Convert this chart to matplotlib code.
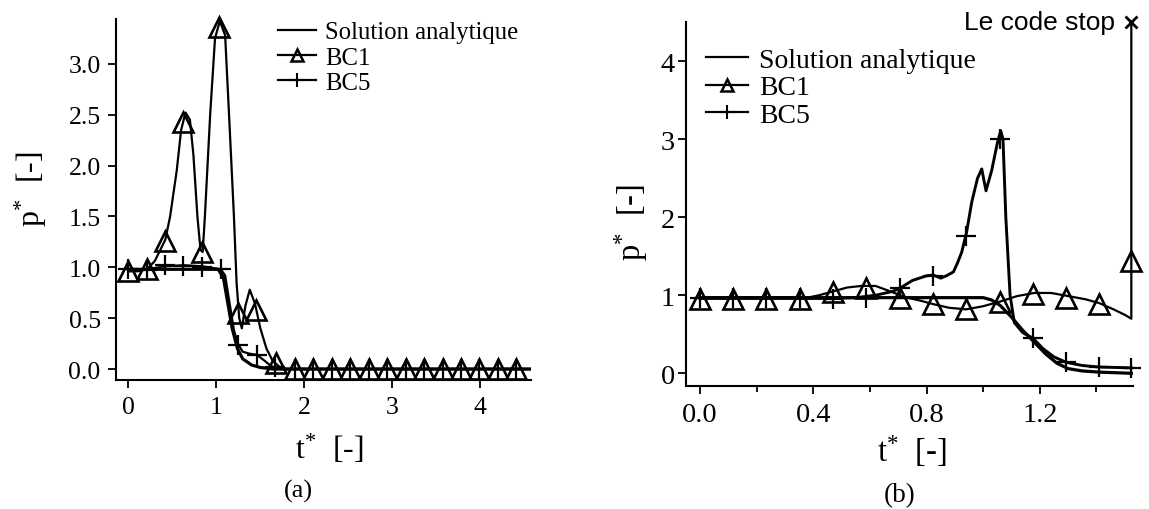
import numpy as np
from matplotlib import pyplot as plt
from matplotlib.lines import Line2D
from matplotlib.ticker import MultipleLocator, FormatStrFormatter

plt.rcParams['font.family'] = ['Liberation Serif', 'DejaVu Serif']
plt.rcParams['mathtext.fontset'] = 'custom'
plt.rcParams['mathtext.rm'] = 'Liberation Serif'
plt.rcParams['mathtext.it'] = 'Liberation Serif:italic'

# ---- panel (a) data ----
a_ana_t = [0, 0.5, 1.02, 1.08, 1.13, 1.18, 1.24, 1.3, 1.4, 1.5, 1.65, 4.6]
a_ana_p = [0.98, 0.98, 0.98, 0.9, 0.65, 0.4, 0.2, 0.1, 0.04, 0.015, 0.0, 0.0]

a_bc1_t = [0, 0.1, 0.21, 0.3, 0.42, 0.475, 0.55, 0.6, 0.65, 0.7, 0.74, 0.785, 0.82, 0.845,
           0.87, 0.93, 0.985, 1.04, 1.1, 1.15, 1.2, 1.23, 1.26, 1.29, 1.33, 1.38, 1.44,
           1.5, 1.57, 1.64, 1.72, 1.8, 4.6]
a_bc1_p = [0.96, 0.96, 0.98, 1.06, 1.27, 1.5, 1.95, 2.35, 2.52, 2.45, 2.1, 1.5, 1.17, 1.15,
           1.5, 2.5, 3.25, 3.42, 3.28, 2.4, 1.5, 0.85, 0.5, 0.4, 0.62, 0.78, 0.64,
           0.4, 0.2, 0.08, 0.02, 0.0, 0.0]
a_bc1_mt = [0, 0.21, 0.42, 0.625, 0.834, 1.035, 1.25, 1.45, 1.68, 1.89, 2.1, 2.31, 2.52,
            2.73, 2.94, 3.15, 3.36, 3.57, 3.78, 3.99, 4.2, 4.41]
a_bc1_mp = [0.96, 0.98, 1.26, 2.43, 1.15, 3.36, 0.55, 0.58, 0.06, 0, 0, 0, 0,
            0, 0, 0, 0, 0, 0, 0, 0, 0]

a_bc5_t = [0, 0.21, 0.42, 0.63, 0.84, 1.05, 1.1, 1.15, 1.2, 1.25, 1.3, 1.38, 1.46,
           1.55, 1.62, 1.7, 4.6]
a_bc5_p = [0.97, 0.98, 1.01, 1.02, 1.01, 0.98, 0.92, 0.65, 0.38, 0.24, 0.17, 0.15, 0.14,
           0.08, 0.03, 0.0, 0.0]
a_bc5_mt = [0, 0.21, 0.42, 0.625, 0.834, 1.05, 1.25, 1.46, 1.67, 1.89, 2.1, 2.31, 2.52,
            2.73, 2.94, 3.15, 3.36, 3.57, 3.78, 3.99, 4.2, 4.41]
a_bc5_mp = [0.98, 0.97, 1.02, 1.01, 1.0, 0.98, 0.24, 0.14, 0.02, 0, 0, 0, 0,
            0, 0, 0, 0, 0, 0, 0, 0, 0]

# ---- panel (b) data ----
b_ana_t = [0, 0.5, 1.0, 1.03, 1.06, 1.1, 1.14, 1.18, 1.22, 1.26, 1.3, 1.35, 1.41, 1.523]
b_ana_p = [0.97, 0.97, 0.97, 0.94, 0.87, 0.72, 0.55, 0.4, 0.25, 0.13, 0.06, 0.03, 0.015, 0.0]

b_bc1_t = [0, 0.2, 0.38, 0.42, 0.47, 0.52, 0.57, 0.62, 0.68, 0.72, 0.78, 0.82, 0.88, 0.94,
           1.0, 1.06, 1.12, 1.18, 1.24, 1.3, 1.36, 1.41, 1.46, 1.5, 1.523, 1.523]
b_bc1_p = [0.97, 0.97, 0.97, 1.0, 1.05, 1.1, 1.12, 1.12, 1.04, 0.98, 0.93, 0.89, 0.84, 0.82,
           0.86, 0.92, 0.99, 1.03, 1.03, 0.99, 0.95, 0.9, 0.82, 0.75, 0.70, 4.5]
b_bc1_mt = [0, 0.118, 0.235, 0.353, 0.47, 0.588, 0.706, 0.824, 0.941, 1.059, 1.176,
            1.294, 1.41, 1.523]
b_bc1_mp = [0.95, 0.95, 0.95, 0.95, 1.04, 1.1, 0.97, 0.89, 0.82, 0.91, 1.02,
            0.97, 0.89, 1.44]

b_bc5_t = [0, 0.45, 0.55, 0.62, 0.68, 0.706, 0.75, 0.8, 0.824, 0.85, 0.87, 0.895, 0.91,
           0.924, 0.941, 0.96, 0.98, 0.995, 1.01, 1.03, 1.05, 1.062, 1.07, 1.08, 1.095,
           1.11, 1.14, 1.176, 1.21, 1.25, 1.294, 1.35, 1.41, 1.523]
b_bc5_p = [0.96, 0.96, 0.97, 1.0, 1.05, 1.09, 1.19, 1.25, 1.26, 1.22, 1.25, 1.3, 1.42,
           1.55, 1.8, 2.2, 2.5, 2.62, 2.34, 2.6, 2.95, 3.11, 3.0, 2.0, 1.0,
           0.65, 0.52, 0.45, 0.32, 0.21, 0.14, 0.1, 0.08, 0.07]
b_bc5_mt = [0, 0.118, 0.235, 0.353, 0.47, 0.588, 0.706, 0.824, 0.941, 1.059, 1.176,
            1.294, 1.41, 1.523]
b_bc5_mp = [0.96, 0.96, 0.96, 0.96, 0.95, 0.96, 1.09, 1.25, 1.76, 3.0, 0.45,
            0.15, 0.08, 0.07]

stop_t, stop_p = 1.523, 4.5

W, H = 1149, 510
fig = plt.figure(figsize=(W / 100, H / 100), dpi=100)
ax_a = fig.add_axes([116 / W, 1 - 380.7 / H, 415.4 / W, 360.7 / H])
ax_b = fig.add_axes([686 / W, 1 - 386.7 / H, 447.3 / W, 364 / H])

lw = 1.6
tri = dict(marker='^', ms=15, mfc='none', mec='k', mew=1.9, ls='none', clip_on=False)
plus = dict(marker='+', ms=15, mec='k', mew=1.6, ls='none', clip_on=False)

for ax in (ax_a, ax_b):
    for s in ('top', 'right'):
        ax.spines[s].set_visible(False)
    for s in ('left', 'bottom'):
        ax.spines[s].set_linewidth(1.5)
    ax.tick_params(which='both', direction='out', width=1.3, colors='k')
    ax.tick_params(which='major', length=6)
    ax.tick_params(which='minor', length=4)

# panel (a)
ax_a.plot(a_ana_t, a_ana_p, 'k-', lw=2.3)
ax_a.plot(a_bc1_t, a_bc1_p, 'k-', lw=lw)
ax_a.plot(a_bc1_mt, a_bc1_mp, **tri)
ax_a.plot(a_bc5_t, a_bc5_p, 'k-', lw=lw)
ax_a.plot(a_bc5_mt, a_bc5_mp, **plus)
ax_a.set_xlim(-0.14, 4.58)
ax_a.set_ylim(-0.105, 3.44)
ax_a.xaxis.set_major_locator(MultipleLocator(1))
ax_a.yaxis.set_major_locator(MultipleLocator(0.5))
ax_a.yaxis.set_major_formatter(FormatStrFormatter('%.1f'))
ax_a.tick_params(axis='both', labelsize=18.5)
ax_a.tick_params(axis='y', pad=5)
ax_a.tick_params(axis='x', pad=6)
ax_a.set_xlabel(r't$^{*}$  [-]', fontsize=23, va='center')
ax_a.set_ylabel(r'p$^{*}$  [-]', fontsize=23, va='center')
ax_a.xaxis.set_label_coords(0.513, -0.19)
ax_a.yaxis.set_label_coords(-0.205, 0.531)

handles = [Line2D([], [], color='k', lw=lw),
           Line2D([], [], color='k', lw=lw, marker='^', ms=9, mfc='none', mew=1.8),
           Line2D([], [], color='k', lw=lw, marker='+', ms=10, mew=1.5)]
labels = ['Solution analytique', 'BC1', 'BC5']
ax_a.legend(handles, labels, loc='upper left', bbox_to_anchor=(0.39, 0.994),
            frameon=False, fontsize=17.8, borderpad=0, borderaxespad=0,
            handlelength=1.55, handletextpad=0.36, labelspacing=0.12)

# panel (b)
ax_b.plot(b_ana_t, b_ana_p, 'k-', lw=2.3)
ax_b.plot(b_bc1_t, b_bc1_p, 'k-', lw=lw, clip_on=False)
ax_b.plot(b_bc1_mt, b_bc1_mp, **tri)
ax_b.plot(b_bc5_t, b_bc5_p, 'k-', lw=2.1)
ax_b.plot(b_bc5_mt, b_bc5_mp, **plus)
ax_b.plot([stop_t], [stop_p], marker='x', ms=9, mew=2, color='k', clip_on=False)
ax_b.text(1.465, stop_p, 'Le code stop', ha='right', va='center',
          family=['Liberation Sans', 'DejaVu Sans'], fontsize=19)
ax_b.set_xlim(-0.049, 1.53)
ax_b.set_ylim(-0.159, 4.508)
ax_b.xaxis.set_major_locator(MultipleLocator(0.4))
ax_b.xaxis.set_minor_locator(MultipleLocator(0.2))
ax_b.xaxis.set_major_formatter(FormatStrFormatter('%.1f'))
ax_b.yaxis.set_major_locator(MultipleLocator(1))
ax_b.tick_params(axis='both', labelsize=20.5)
ax_b.tick_params(axis='y', pad=2)
ax_b.tick_params(axis='x', pad=6)
ax_b.set_xlabel(r't$^{*}$  [-]', fontsize=23.5, va='center')
ax_b.set_ylabel(r'p$^{*}$  [-]', fontsize=23.5, va='center')
ax_b.xaxis.set_label_coords(0.505, -0.178)
ax_b.yaxis.set_label_coords(-0.123, 0.4525)

ax_b.legend(handles, labels, loc='upper left', bbox_to_anchor=(0.0447, 0.93),
            frameon=False, fontsize=20, borderpad=0, borderaxespad=0,
            handlelength=1.5, handletextpad=0.4, labelspacing=0.08)

fig.text(298 / W, 1 - 491 / H, '(a)', ha='center', va='center', fontsize=19)
fig.text(900 / W, 1 - 496 / H, '(b)', ha='center', va='center', fontsize=19.5)

fig.savefig('out.png', dpi=100)
